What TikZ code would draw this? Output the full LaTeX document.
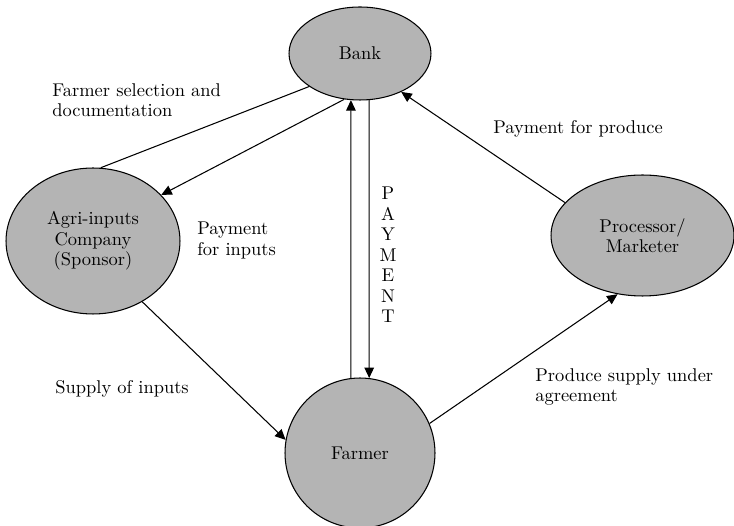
\documentclass[tikz,border=0pt]{standalone}
\usepackage{tikz}
\usetikzlibrary{arrows.meta,shapes.geometric}
\definecolor{partygray}{RGB}{180,180,180}

\begin{document}
\begin{tikzpicture}[x=0.02cm,y=-0.02cm,
  party/.style={ellipse,draw,line width=0.6pt,fill=partygray,inner sep=0pt,
    align=center,font=\fontsize{10.5}{11.7}\selectfont},
  flow/.style={line width=0.6pt},
  arr/.style={flow,-{Triangle[length=6pt,width=5.5pt]}},
  lbl/.style={inner sep=0pt,align=left,font=\fontsize{10.5}{11.5}\selectfont}]
\useasboundingbox (0,0) rectangle (734,526);

% parties
\node[party,minimum width=2.84cm,minimum height=1.86cm] (bank) at (360,53.5) {Bank};
\node[party,minimum width=3.48cm,minimum height=2.92cm] (agri) at (93,241) {Agri-inputs\\Company\\(Sponsor)};
\node[party,minimum width=3.66cm,minimum height=2.42cm] (processor) at (642.5,235.5) {Processor/\\Marketer};
\node[party,minimum width=3cm,minimum height=3cm] (farmer) at (360,453) {Farmer};

% flows
\draw[flow] (agri.84) -- (bank.213);
\draw[arr] (bank.251) -- (agri.34);
\draw[arr] (farmer.97) -- (bank.259);
\draw[arr] (bank.281) -- (farmer.83);
\draw[arr] (processor.157) -- (bank.317);
\draw[arr] (agri.309) -- (farmer.170);
\draw[arr] (farmer.23) -- (processor.247);

% labels
\node[lbl,anchor=north west] (selection) at (52,83) {Farmer selection and\\documentation};
\node[lbl,anchor=base west] (produce) at (493,134) {Payment for produce};
\node[lbl,anchor=north west] (inputs) at (197,222) {Payment\\for inputs};
\node[lbl,anchor=base west] (supply) at (55,394) {Supply of inputs};
\node[lbl,anchor=north west] (agreement) at (535,368) {Produce supply under\\agreement};
\node[lbl,align=center,font=\fontsize{10.5}{11.7}\selectfont] (payment) at (388,255) {P\\A\\Y\\M\\E\\N\\T};
\end{tikzpicture}
\end{document}
